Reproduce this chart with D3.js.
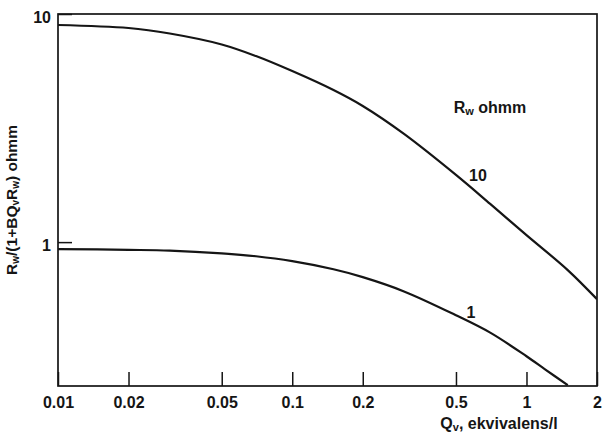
<!DOCTYPE html>
<html>
<head>
<meta charset="utf-8">
<script src="https://cdn.jsdelivr.net/npm/d3@7"></script>
<style>
  body { margin: 0; background: #fff; }
  svg { font-family: "Liberation Sans", sans-serif; font-weight: bold; fill: #151515; }
  .axis text { font-size: 16px; fill: #151515; }
  .axis .tick line { stroke: #151515; stroke-width: 1.5; }
  .axis path.domain { display: none; }
</style>
</head>
<body>
<script>
var width = 608, height = 432;
var margin = {top: 14, right: 11, bottom: 46, left: 58};

// Qv (ekvivalens/l)
var qv = [0.01, 0.02, 0.03, 0.05, 0.07, 0.1, 0.15, 0.2, 0.3, 0.5, 0.7, 1, 1.5, 2];
// Rw = 10 ohmm
var rw10 = [8.95, 8.68, 8.21, 7.35, 6.54, 5.62, 4.64, 3.95, 2.98, 1.97, 1.47, 1.073, 0.754, 0.562];
// Rw = 1 ohmm
var qv1 = [0.01, 0.02, 0.03, 0.05, 0.07, 0.1, 0.15, 0.2, 0.3, 0.5, 0.7, 1, 1.2, 1.5];
var rw1 = [0.932, 0.925, 0.918, 0.893, 0.867, 0.825, 0.76, 0.702, 0.608, 0.478, 0.401, 0.316, 0.277, 0.236];

var xTicks = [0.01, 0.02, 0.05, 0.1, 0.2, 0.5, 1, 2];
var yTicks = [1, 10];

var x = d3.scaleLog().domain([0.01, 2]).range([margin.left, width - margin.right]);
var y = d3.scaleLog().domain([0.234, 10]).range([height - margin.bottom, margin.top]);

var svg = d3.select("body").append("svg")
    .attr("width", width)
    .attr("height", height);

svg.append("defs").append("clipPath").attr("id", "plot")
  .append("rect")
    .attr("x", x.range()[0]).attr("y", y.range()[1])
    .attr("width", x.range()[1] - x.range()[0])
    .attr("height", y.range()[0] - y.range()[1]);

// x axis, ticks pointing inward
svg.append("g")
    .attr("class", "axis")
    .attr("transform", "translate(0," + y.range()[0] + ")")
    .call(d3.axisBottom(x).tickValues(xTicks).tickSize(-14).tickPadding(11)
        .tickFormat(function(d) { return String(d); }));

// y axis
svg.append("g")
    .attr("class", "axis")
    .attr("transform", "translate(" + x.range()[0] + ",0)")
    .call(d3.axisLeft(y).tickValues(yTicks).tickSize(-14).tickPadding(7)
        .tickFormat(function(d) { return String(d); }))
  .selectAll(".tick text")
    .attr("y", 3);

// frame
svg.append("rect")
    .attr("x", x.range()[0]).attr("y", y.range()[1])
    .attr("width", x.range()[1] - x.range()[0])
    .attr("height", y.range()[0] - y.range()[1])
    .attr("fill", "none")
    .attr("stroke", "#151515")
    .attr("stroke-width", 1.7);

var line = d3.line()
    .x(function(d) { return x(d[0]); })
    .y(function(d) { return y(d[1]); })
    .curve(d3.curveCatmullRom.alpha(0.5));

var curves = [d3.zip(qv, rw10), d3.zip(qv1, rw1)];

svg.append("g")
    .attr("clip-path", "url(#plot)")
  .selectAll("path")
  .data(curves)
  .enter().append("path")
    .attr("d", line)
    .attr("fill", "none")
    .attr("stroke", "#151515")
    .attr("stroke-width", 2.2);

// curve labels
svg.append("text").attr("x", 478).attr("y", 181)
    .attr("text-anchor", "middle").style("font-size", "16px").text("10");
svg.append("text").attr("x", 471).attr("y", 318)
    .attr("text-anchor", "middle").style("font-size", "16px").text("1");

var leg = svg.append("text").attr("x", 490).attr("y", 113)
    .attr("text-anchor", "middle").style("font-size", "16px");
leg.append("tspan").text("R");
leg.append("tspan").attr("baseline-shift", "-20%").style("font-size", "11px").text("w");
leg.append("tspan").text(" ohmm");

// x title
var xt = svg.append("text").attr("x", 499).attr("y", 429)
    .attr("text-anchor", "middle").style("font-size", "16px");
xt.append("tspan").text("Q");
xt.append("tspan").attr("baseline-shift", "-15%").style("font-size", "11px").text("v");
xt.append("tspan").text(", ekvivalens/l");

// y title
var yt = svg.append("text")
    .attr("transform", "translate(17,200) rotate(-90)")
    .attr("text-anchor", "middle").style("font-size", "15.5px");
yt.append("tspan").text("R");
yt.append("tspan").attr("baseline-shift", "-20%").style("font-size", "10px").text("w");
yt.append("tspan").text("/(1+BQ");
yt.append("tspan").attr("baseline-shift", "-20%").style("font-size", "10px").text("v");
yt.append("tspan").text("R");
yt.append("tspan").attr("baseline-shift", "-20%").style("font-size", "10px").text("w");
yt.append("tspan").text(") ohmm");
</script>
</body>
</html>
